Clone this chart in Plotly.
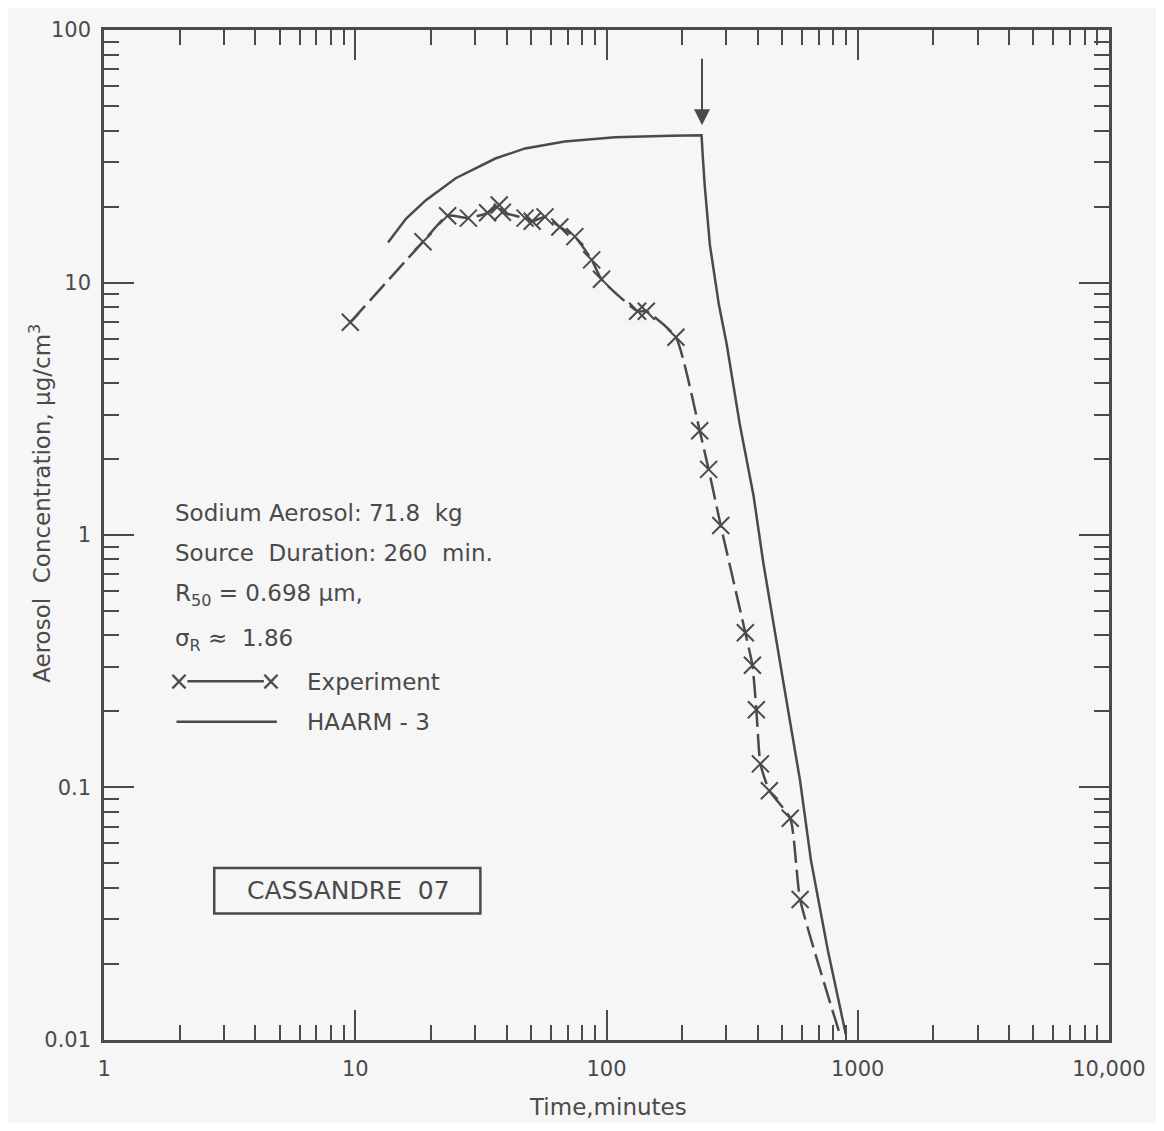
import plotly.graph_objects as go
import numpy as np

# ---- data ----
exp_time = [9.55, 18.6, 23.3, 28.2, 33.6, 37.4, 38.5, 47.4, 50.6, 56.9, 65.2, 74.8, 87.3, 95.5,
            133, 144, 189, 235, 255, 285, 357, 381, 395, 410, 445, 539, 590]
exp_conc = [6.96, 14.5, 18.4, 18.0, 18.9, 20.3, 19.0, 18.0, 17.5, 18.2, 16.6, 15.2, 12.3, 10.3,
            7.7, 7.7, 6.07, 2.59, 1.82, 1.09, 0.41, 0.305, 0.203, 0.124, 0.097, 0.0755, 0.036]
exp_end_time = [850]
exp_end_conc = [0.0105]

haarm_time = [13.5, 15.9, 19.1, 25.1, 36.1, 47.4, 68.2, 108, 180, 239,
              242, 246, 258, 280, 301, 339, 385, 421, 506, 590, 652, 761, 897]
haarm_conc = [14.4, 17.9, 21.2, 25.9, 31.0, 34.0, 36.2, 37.6, 38.2, 38.3,
              31.0, 24.3, 14.1, 8.2, 5.70, 2.76, 1.43, 0.776, 0.261, 0.106, 0.0512, 0.0226, 0.0105]

arrow_time = 240
arrow_conc = 42

x_ticks = [1, 10, 100, 1000, 10000]
x_ticktext = ["1", "10", "100", "1000", "10,000"]
y_ticks = [0.01, 0.1, 1, 10, 100]
y_ticktext = ["0.01", "0.1", "1", "10", "100"]

INK = "#4a4a4a"
BG = "#f6f6f6"
FONT = "DejaVu Sans"

x_minor = [m * 10 ** d for d in range(0, 4) for m in range(2, 10)]
y_minor = [m * 10 ** d for d in range(-2, 2) for m in range(2, 10)]

fig = go.Figure()

# HAARM-3 curve
fig.add_trace(go.Scatter(x=haarm_time, y=haarm_conc, mode="lines",
                         line=dict(color=INK, width=2.5),
                         showlegend=False, hoverinfo="skip"))

# Experiment line (dashed, through points and tail)
fig.add_trace(go.Scatter(x=exp_time + exp_end_time, y=exp_conc + exp_end_conc, mode="lines",
                         line=dict(color=INK, width=2.5, dash="22px,7px", shape="spline", smoothing=0.5),
                         showlegend=False, hoverinfo="skip"))
fig.add_trace(go.Scatter(x=exp_time, y=exp_conc, mode="markers",
                         marker=dict(symbol="x-thin-open", size=17, color=INK,
                                     line=dict(color=INK, width=2)),
                         showlegend=False, hoverinfo="skip"))

axis_common = dict(type="log", showgrid=False, zeroline=False, showline=True, linecolor=INK,
                   linewidth=2.5, mirror="allticks", ticks="inside", ticklen=30, tickwidth=2,
                   tickcolor=INK, tickfont=dict(family=FONT, size=21, color=INK))

fig.update_xaxes(**axis_common, range=[-0.0005, 4.0005], tickvals=x_ticks, ticktext=x_ticktext,
                 minor=dict(tickvals=x_minor, ticks="inside", ticklen=15, tickwidth=2, tickcolor=INK),
                 ticklabelstandoff=8)
fig.update_yaxes(**axis_common, range=[-2.0005, 2.0005], tickvals=y_ticks, ticktext=y_ticktext,
                 minor=dict(tickvals=y_minor, ticks="inside", ticklen=15, tickwidth=2, tickcolor=INK),
                 ticklabelstandoff=6)

# plot area in page pixels (the page body adds an 8 px offset)
OFF = 8
L, R, T, B = 104, 1116, 18, 1040
W, H = 1164, 1131

def px(xp):
    return (xp - L) / (R - L)

def py(yp):
    return (B - yp) / (B - T)

annots = []
# arrow marking end of source
annots.append(dict(x=np.log10(arrow_time), y=np.log10(arrow_conc), xref="x", yref="y",
                   ax=0, ay=-68, axref="pixel", ayref="pixel", showarrow=True, text="",
                   arrowhead=2, arrowsize=1.6, arrowwidth=2, arrowcolor=INK))

tfont = dict(family=FONT, size=23, color=INK)
lines = [
    ("Sodium Aerosol: 71.8  kg", 507),
    ("Source  Duration: 260  min.", 547),
    ("R<sub>50</sub> = 0.698 μm,", 590),
    ("σ<sub>R</sub> ≈  1.86", 635),
]
for txt, yp in lines:
    annots.append(dict(x=px(173), y=py(yp), xref="paper", yref="paper", text=txt,
                       showarrow=False, xanchor="left", yanchor="middle", font=tfont))

annots.append(dict(x=px(306), y=py(678), xref="paper", yref="paper", text="Experiment",
                   showarrow=False, xanchor="left", yanchor="middle", font=tfont))
annots.append(dict(x=px(306), y=py(718), xref="paper", yref="paper", text="HAARM - 3",
                   showarrow=False, xanchor="left", yanchor="middle", font=tfont))
for xp in (180, 272):
    annots.append(dict(x=px(xp), y=py(677), xref="paper", yref="paper", text="×",
                       showarrow=False, xanchor="center", yanchor="middle",
                       font=dict(family=FONT, size=26, color=INK)))

annots.append(dict(x=px(350), y=py(889), xref="paper", yref="paper", text="CASSANDRE  07",
                   showarrow=False, xanchor="center", yanchor="middle",
                   font=dict(family=FONT, size=25, color=INK)))

# axis titles
annots.append(dict(x=px(612), y=py(1108), xref="paper", yref="paper", text="Time,minutes",
                   showarrow=False, xanchor="center", yanchor="middle",
                   font=dict(family=FONT, size=23, color=INK)))
annots.append(dict(x=px(40), y=py(497), xref="paper", yref="paper",
                   text="Aerosol  Concentration, μg/cm<sup>3</sup>", textangle=-90,
                   showarrow=False, xanchor="center", yanchor="middle",
                   font=dict(family=FONT, size=23, color=INK)))

shapes = [
    dict(type="line", xref="paper", yref="paper", x0=px(188), x1=px(265), y0=py(677), y1=py(677),
         line=dict(color=INK, width=2.5)),
    dict(type="line", xref="paper", yref="paper", x0=px(177), x1=px(278), y0=py(718), y1=py(718),
         line=dict(color=INK, width=2.5)),
    dict(type="rect", xref="paper", yref="paper", x0=px(215), x1=px(483), y0=py(912), y1=py(866),
         line=dict(color=INK, width=2.5)),
]

fig.update_layout(width=W - 2 * OFF, height=H - 2 * OFF,
                  margin=dict(l=L - OFF, r=W - R - OFF, t=T - OFF, b=H - B - OFF),
                  plot_bgcolor=BG, paper_bgcolor=BG, annotations=annots, shapes=shapes,
                  showlegend=False)

fig.write_html("out.html")
